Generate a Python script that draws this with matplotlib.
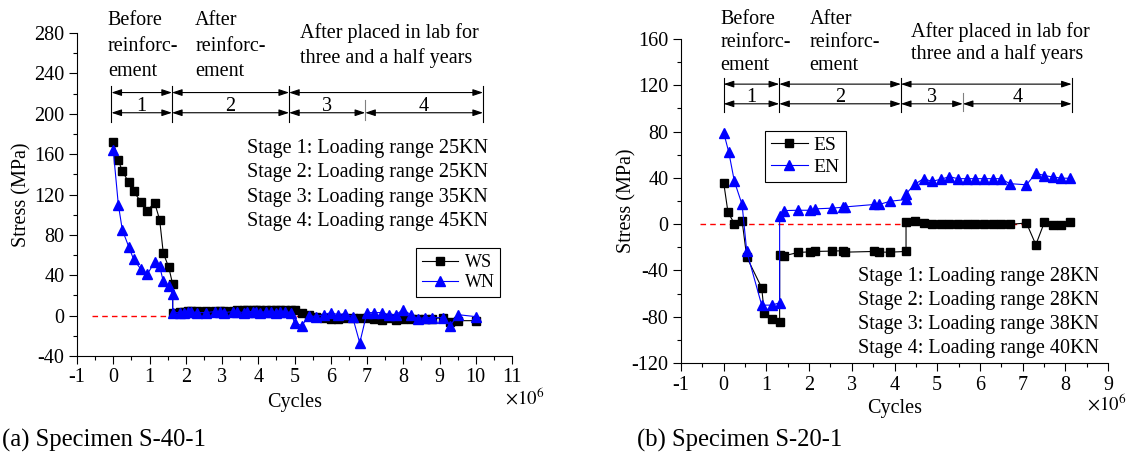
import matplotlib
matplotlib.use("Agg")
import matplotlib.pyplot as plt
from matplotlib.ticker import MultipleLocator

plt.rcParams["font.family"] = ["Liberation Serif", "DejaVu Serif"]
plt.rcParams["mathtext.fontset"] = "stix"
plt.rcParams["axes.unicode_minus"] = False
plt.rcParams["font.size"] = 14.5

# ─────────────────────────────────────────────────────────────────────────────
# Data
# ─────────────────────────────────────────────────────────────────────────────

# (a) Specimen S-40-1, cycles in 1e6
x_a = [0, 0.14, 0.25, 0.43, 0.56, 0.76, 0.94, 1.14, 1.28, 1.38, 1.53, 1.64,
       1.64, 1.85, 1.95, 2.05, 2.15, 2.3, 2.55, 2.8, 2.95, 3.05, 3.3, 3.4,
       3.6, 3.7, 3.85, 3.95, 4.05, 4.2, 4.35, 4.5, 4.6, 4.75, 4.9,
       5.0, 5.2, 5.4, 5.6, 5.8, 6.0, 6.2, 6.4, 6.6, 6.8, 7.0, 7.2, 7.4, 7.6,
       7.8, 8.0, 8.2, 8.4, 8.6, 8.8, 9.1, 9.3, 9.5, 10.0]
ws = [172, 154, 143, 132, 123, 113, 104, 112, 95, 62, 48, 31,
      3, 4, 4, 5, 5, 5, 5, 5, 5, 5, 5, 6, 6, 6, 6, 6, 6, 6, 6, 6, 6, 6, 6,
      6, 3, 1, -1, -2, -3, -3, -2, -2, -2, -2, -3, -4, -2, -4, -3, -3, -3,
      -3, -3, -2, -6, -5, -5]
wn = [164, 110, 85, 68, 56, 46, 41, 53, 49, 34, 29, 21,
      3, 3, 3, 4, 4, 3, 3, 4, 4, 3, 4, 4, 3, 4, 4, 4, 3, 4, 4, 3, 4, 4, 3,
      -7, -10, 0, -1, 1, 3, 1, 2, -1, -27, 3, 3, 3, 1, 1, 6, 1, -3, -2, -2,
      -2, -10, 1, -1]

# (b) Specimen S-20-1
x_es = [0, 0.1, 0.25, 0.43, 0.54, 0.89, 0.95, 1.12, 1.31, 1.31, 1.41, 1.74,
        2.03, 2.14, 2.53, 2.79, 2.85, 3.53, 3.64, 3.9, 4.27, 4.27, 4.47, 4.68,
        4.87, 5.08, 5.28, 5.49, 5.69, 5.89, 6.09, 6.3, 6.49, 6.7, 7.09, 7.31,
        7.51, 7.71, 7.91, 8.11]
es = [35.8, 10.3, 0.4, 3, -28.5, -55, -77, -81.6, -84.5, -26.5, -27.4, -24.5,
      -23.9, -23.6, -23.3, -23, -24.2, -23.6, -24.2, -24.2, -23.6, 1.6, 2.4, 1,
      0.4, 0.4, 0.4, -0.2, 0.4, 0.4, 0.4, 0.4, -0.2, -0.2, 1, -17.8,
      1.6, -0.5, -0.5, 1.6]
x_en = [0, 0.12, 0.25, 0.43, 0.54, 0.89, 1.12, 1.31, 1.31, 1.41, 1.74, 2.03,
        2.14, 2.53, 2.79, 2.85, 3.53, 3.64, 3.9, 4.27, 4.27, 4.47, 4.68, 4.87,
        5.08, 5.28, 5.49, 5.69, 5.89, 6.09, 6.3, 6.49, 6.7, 7.09, 7.31, 7.51,
        7.71, 7.91, 8.11]
en = [79, 62, 37, 17, -23.6, -70, -70, -68, 6.8, 11.7, 12, 12,
      13.2, 13.8, 14.6, 14.9, 17, 17, 19.8, 21.3, 26.2, 34.3, 39.3, 37,
      38.7, 41, 39.3, 39.3, 39.3, 39.3, 39.3, 39.3, 35, 34, 44, 42,
      40.7, 39.8, 39.6]

# stage boundaries (cycles, 1e6)
edges_a = [-0.05, 1.62, 4.85, 6.95, 10.2]
edges_b = [0, 1.3, 4.15, 5.6, 8.15]

stages_a = ["Stage 1: Loading range 25KN", "Stage 2: Loading range 25KN",
            "Stage 3: Loading range 35KN", "Stage 4: Loading range 45KN"]
stages_b = ["Stage 1: Loading range 28KN", "Stage 2: Loading range 28KN",
            "Stage 3: Loading range 38KN", "Stage 4: Loading range 40KN"]


def style_axes(ax, xlim, ylim, ystep):
    ax.set_xlim(*xlim)
    ax.set_ylim(*ylim)
    ax.spines[["top", "right"]].set_visible(False)
    for s in ("left", "bottom"):
        ax.spines[s].set_linewidth(0.8)
    ax.xaxis.set_major_locator(MultipleLocator(1))
    ax.xaxis.set_minor_locator(MultipleLocator(0.5))
    ax.yaxis.set_major_locator(MultipleLocator(ystep))
    ax.yaxis.set_minor_locator(MultipleLocator(ystep / 2))
    ax.tick_params(which="major", direction="out", length=6, width=0.8, pad=3)
    ax.tick_params(which="minor", direction="out", length=3, width=0.8)
    ax.set_xlabel("Cycles")
    ax.set_ylabel("Stress (MPa)")
    ax.xaxis.label.set_va("center")
    ax.yaxis.label.set_va("center")


def stage_bars(ax, edges, y1, y2, v_top, v_bot, t_top, t_bot):
    kw = dict(arrowstyle="<|-|>,head_length=0.6,head_width=0.2", color="black",
              lw=0.8, shrinkA=0, shrinkB=0, mutation_scale=10)
    for a, b in [(edges[0], edges[1]), (edges[1], edges[2]), (edges[2], edges[4])]:
        ax.annotate("", xy=(b, y1), xytext=(a, y1), arrowprops=kw,
                    annotation_clip=False)
    for i in range(4):
        ax.annotate("", xy=(edges[i + 1], y2), xytext=(edges[i], y2),
                    arrowprops=kw, annotation_clip=False)
        ax.annotate(str(i + 1), xy=((edges[i] + edges[i + 1]) / 2, y2),
                    xytext=(0, 1), textcoords="offset points",
                    ha="center", va="baseline", annotation_clip=False)
    for e in (edges[0], edges[1], edges[2], edges[4]):
        ax.plot([e, e], [v_bot, v_top], color="black", lw=0.8, clip_on=False)
    ax.plot([edges[3]] * 2, [t_bot, t_top], color="gray", lw=0.8, clip_on=False)


fig = plt.figure(figsize=(11.27, 4.63), dpi=100)
ax1 = fig.add_axes([77 / 1127, 1 - 356 / 463, 435 / 1127, 323 / 463])
ax2 = fig.add_axes([681 / 1127, 1 - 363 / 463, 427 / 1127, 324 / 463])

# ── (a) ──────────────────────────────────────────────────────────────────────
style_axes(ax1, (-1, 11), (-40, 280), 40)
ax1.plot([-0.6, 6.9], [0, 0], color="red", lw=1.0, ls=(0, (4, 3)), zorder=1)
ax1.plot(x_a, ws, color="black", lw=0.8, marker="s", ms=5.5, label="WS", zorder=2)
ax1.plot(x_a, wn, color="blue", lw=0.8, marker="^", ms=7, label="WN", zorder=3)
ax1.legend(loc="lower left", bbox_to_anchor=(0.78, 0.183), borderaxespad=0,
           fancybox=False, edgecolor="black", framealpha=1, fontsize=13,
           handlelength=2.0, numpoints=1, borderpad=0.3, labelspacing=0.2,
           handletextpad=0.4).get_frame().set_linewidth(0.8)
for i, s in enumerate(stages_a):
    ax1.text(3.7, 166 - 24.3 * i, s, ha="left", va="center")
stage_bars(ax1, edges_a, 221, 201, 227, 192, 214, 194)
ax1.text(-0.15, 292, "Before", va="center")
ax1.text(-0.15, 267, "reinforc-", va="center")
ax1.text(-0.15, 242, "ement", va="center")
ax1.text(2.26, 292, "After", va="center")
ax1.text(2.26, 267, "reinforc-", va="center")
ax1.text(2.26, 242, "ement", va="center")
ax1.text(5.14, 280, "After placed in lab for", va="center")
ax1.text(5.14, 255, "three and a half years", va="center")
ax1.xaxis.set_label_coords(0.5, -47 / 323)
ax1.yaxis.set_label_coords(-55 / 435, 0.5)
ax1.text(0.984, -42 / 323, r"$\times10^{6}$", transform=ax1.transAxes,
         ha="left", va="center", fontsize=13.5)

# ── (b) ──────────────────────────────────────────────────────────────────────
style_axes(ax2, (-1, 9), (-120, 160), 40)
ax2.plot([-0.55, 7.0], [0, 0], color="red", lw=1.0, ls=(0, (4, 3)), zorder=1)
ax2.plot(x_es, es, color="black", lw=0.8, marker="s", ms=5.5, label="ES", zorder=2)
ax2.plot(x_en, en, color="blue", lw=0.8, marker="^", ms=7, label="EN", zorder=3)
ax2.legend(loc="lower left", bbox_to_anchor=(0.197, 0.56), borderaxespad=0,
           fancybox=False, edgecolor="black", framealpha=1, fontsize=14,
           handlelength=1.9, numpoints=1, borderpad=0.3, labelspacing=0.2,
           handletextpad=0.3).get_frame().set_linewidth(0.8)
for i, s in enumerate(stages_b):
    ax2.text(3.14, -45.3 - 20.7 * i, s, ha="left", va="center")
stage_bars(ax2, edges_b, 121, 104, 126, 97, 113, 98)
ax2.text(-0.08, 177, "Before", va="center")
ax2.text(-0.08, 157, "reinforc-", va="center")
ax2.text(-0.08, 137, "ement", va="center")
ax2.text(2.01, 177, "After", va="center")
ax2.text(2.01, 157, "reinforc-", va="center")
ax2.text(2.01, 137, "ement", va="center")
ax2.text(4.38, 166, "After placed in lab for", va="center")
ax2.text(4.38, 147, "three and a half years", va="center")
ax2.xaxis.set_label_coords(0.5, -45 / 324)
ax2.yaxis.set_label_coords(-54 / 427, 0.5)
ax2.text(0.95, -41 / 324, r"$\times10^{6}$", transform=ax2.transAxes,
         ha="left", va="center", fontsize=13.5)

fig.text(2 / 1127, 1 - 440 / 463, "(a) Specimen S-40-1", fontsize=17.7, va="center")
fig.text(637 / 1127, 1 - 440 / 463, "(b) Specimen S-20-1", fontsize=17.7, va="center")

fig.savefig("out.png", dpi=100)
